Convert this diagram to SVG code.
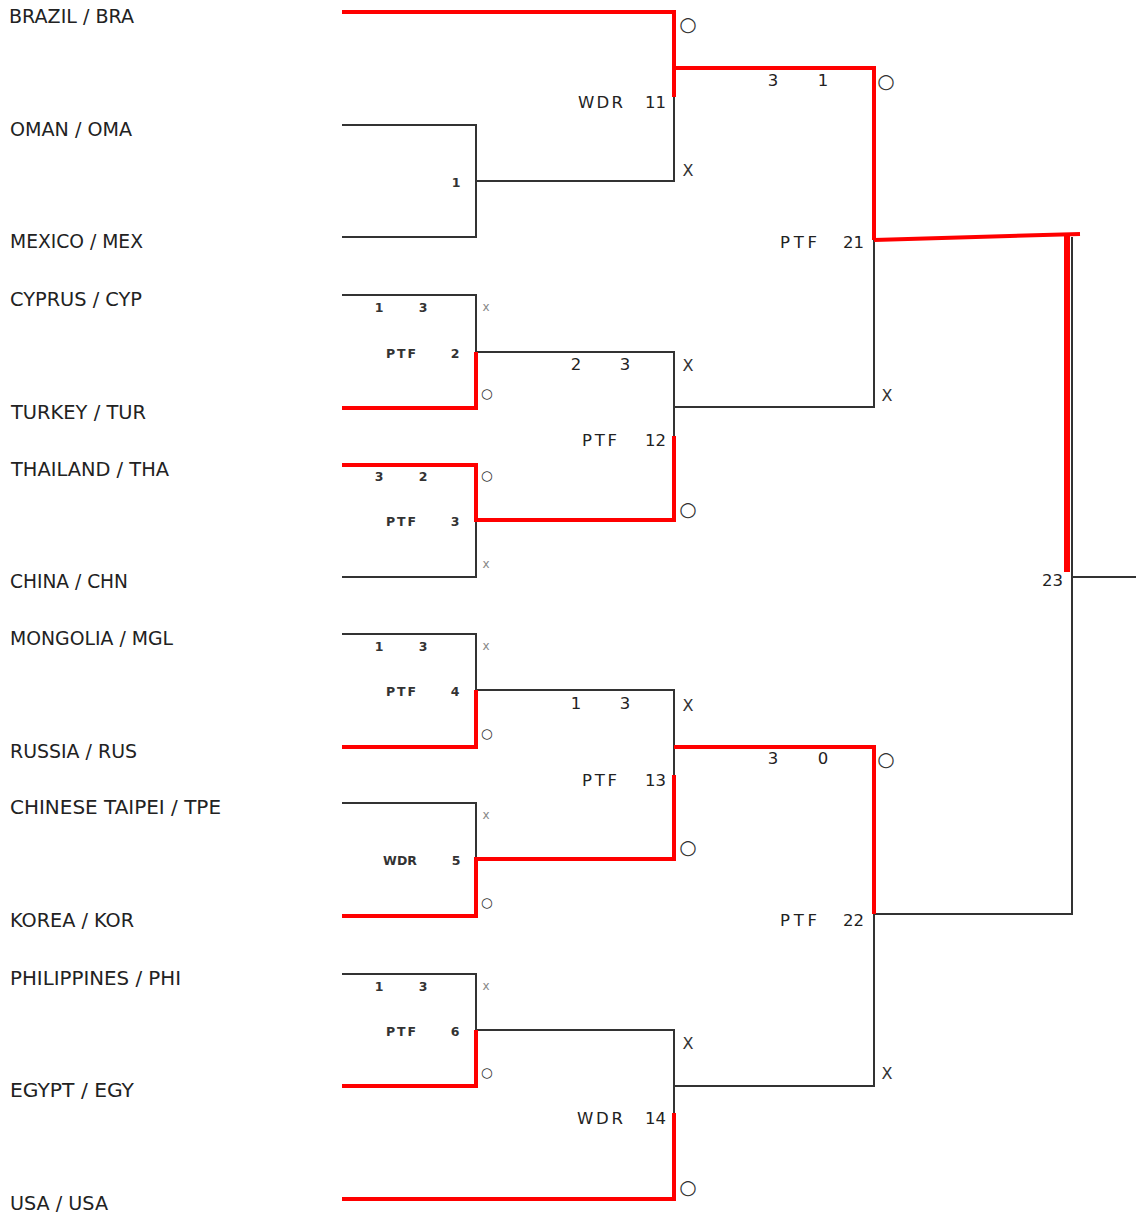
<svg xmlns="http://www.w3.org/2000/svg" width="1136" height="1218" viewBox="0 0 1136 1218">
<style>
.bk{fill:none;stroke:#333;stroke-width:2;stroke-linejoin:miter}
.rd{fill:none;stroke:#ff0000;stroke-width:4;stroke-linejoin:miter}
.team{font-family:"DejaVu Sans",Verdana,sans-serif;font-size:19px;fill:#222}
.r1{font-family:"DejaVu Sans",Verdana,sans-serif;font-size:12.5px;font-weight:bold;fill:#333}
.r2{font-family:"DejaVu Sans",Verdana,sans-serif;font-size:16.5px;fill:#222}
.mk{font-family:"DejaVu Sans",Verdana,sans-serif;font-size:16px;fill:#333;text-anchor:middle}
.o2{font-family:"DejaVu Sans",Verdana,sans-serif;font-size:20px;fill:#333;text-anchor:middle}
.mk1{font-family:"DejaVu Sans",Verdana,sans-serif;font-size:12px;fill:#888;text-anchor:middle}
.o1{font-family:"DejaVu Sans",Verdana,sans-serif;font-size:13.5px;fill:#333;text-anchor:middle}
.c{text-anchor:middle}
</style>
<rect width="1136" height="1218" fill="#fff"/>
<g id="connectors">
<path class="bk" d="M342 125H476V237H342"/>
<path class="bk" d="M476 181H674V97"/>
<path class="bk" d="M342 295H476V352H674V436"/>
<path class="bk" d="M674 407H874V240"/>
<path class="bk" d="M342 577H476V520"/>
<path class="bk" d="M342 634H476V690H674V775"/>
<path class="bk" d="M342 803H476V859"/>
<path class="bk" d="M342 974H476V1030H674V1113"/>
<path class="bk" d="M674 1086H874V914"/>
<path class="bk" d="M874 914H1072V237"/>
<path class="bk" d="M1072 577H1136"/>
<path class="rd" d="M342 12H674V97"/>
<path class="rd" d="M674 68H874V240"/>
<path class="rd" d="M874 240L1080 234"/>
<path class="rd" d="M1067 234V572" style="stroke-width:6"/>
<path class="rd" d="M342 408H476V352"/>
<path class="rd" d="M342 465H476V520H674V436"/>
<path class="rd" d="M342 747H476V690"/>
<path class="rd" d="M342 916H476V859H674V775"/>
<path class="rd" d="M674 747H874V914"/>
<path class="rd" d="M342 1086H476V1030"/>
<path class="rd" d="M342 1199H674V1113"/>
</g>
<g id="teams">
<text class="team" x="9" y="22.5" textLength="125" lengthAdjust="spacingAndGlyphs">BRAZIL / BRA</text>
<text class="team" x="10" y="135.5" textLength="122" lengthAdjust="spacingAndGlyphs">OMAN / OMA</text>
<text class="team" x="10" y="247.5" textLength="133" lengthAdjust="spacingAndGlyphs">MEXICO / MEX</text>
<text class="team" x="10" y="305.5" textLength="132" lengthAdjust="spacingAndGlyphs">CYPRUS / CYP</text>
<text class="team" x="11" y="418.5" textLength="135" lengthAdjust="spacingAndGlyphs">TURKEY / TUR</text>
<text class="team" x="11" y="475.5" textLength="158" lengthAdjust="spacingAndGlyphs">THAILAND / THA</text>
<text class="team" x="10" y="587.5" textLength="118" lengthAdjust="spacingAndGlyphs">CHINA / CHN</text>
<text class="team" x="10" y="644.5" textLength="163" lengthAdjust="spacingAndGlyphs">MONGOLIA / MGL</text>
<text class="team" x="10" y="757.5" textLength="127" lengthAdjust="spacingAndGlyphs">RUSSIA / RUS</text>
<text class="team" x="10" y="813.5" textLength="211" lengthAdjust="spacingAndGlyphs">CHINESE TAIPEI / TPE</text>
<text class="team" x="10" y="926.5" textLength="124" lengthAdjust="spacingAndGlyphs">KOREA / KOR</text>
<text class="team" x="10" y="984.5" textLength="171" lengthAdjust="spacingAndGlyphs">PHILIPPINES / PHI</text>
<text class="team" x="10" y="1096.5" textLength="124" lengthAdjust="spacingAndGlyphs">EGYPT / EGY</text>
<text class="team" x="10" y="1209.5" textLength="98" lengthAdjust="spacingAndGlyphs">USA / USA</text>
</g>
<g id="match1">
<text class="r1 c" x="456" y="186.5">1</text>
</g>
<g id="match2">
<text class="r1 c" x="379" y="311.5">1</text><text class="r1 c" x="423" y="311.5">3</text>
<text class="r1" x="386" y="357.5" textLength="30">PTF</text><text class="r1 c" x="455" y="357.5">2</text>
<text class="mk1" x="486" y="311">x</text><text class="o1" x="487" y="397.5">○</text>
</g>
<g id="match3">
<text class="r1 c" x="379" y="480.5">3</text><text class="r1 c" x="423" y="480.5">2</text>
<text class="r1" x="386" y="526" textLength="30">PTF</text><text class="r1 c" x="455" y="526">3</text>
<text class="o1" x="487" y="479.5">○</text><text class="mk1" x="486" y="568">x</text>
</g>
<g id="match4">
<text class="r1 c" x="379" y="651">1</text><text class="r1 c" x="423" y="651">3</text>
<text class="r1" x="386" y="696" textLength="30">PTF</text><text class="r1 c" x="455" y="696">4</text>
<text class="mk1" x="486" y="650">x</text><text class="o1" x="487" y="737.5">○</text>
</g>
<g id="match5">
<text class="r1" x="383" y="864.5" textLength="34">WDR</text><text class="r1 c" x="456" y="864.5">5</text>
<text class="mk1" x="486" y="819">x</text><text class="o1" x="487" y="906.5">○</text>
</g>
<g id="match6">
<text class="r1 c" x="379" y="990.5">1</text><text class="r1 c" x="423" y="990.5">3</text>
<text class="r1" x="386" y="1035.5" textLength="30">PTF</text><text class="r1 c" x="455" y="1035.5">6</text>
<text class="mk1" x="486" y="990">x</text><text class="o1" x="487" y="1076.5">○</text>
</g>
<g id="match11">
<text class="r2" x="578" y="108" textLength="45">WDR</text><text class="r2" x="645" y="108">11</text>
<text class="o2" x="688" y="31">○</text><text class="mk" x="688" y="176">X</text>
</g>
<g id="match12">
<text class="r2 c" x="576" y="370">2</text><text class="r2 c" x="625" y="370">3</text>
<text class="r2" x="582" y="446" textLength="35">PTF</text><text class="r2" x="645" y="446">12</text>
<text class="mk" x="688" y="371">X</text><text class="o2" x="688" y="516">○</text>
</g>
<g id="match13">
<text class="r2 c" x="576" y="709">1</text><text class="r2 c" x="625" y="709">3</text>
<text class="r2" x="582" y="786" textLength="35">PTF</text><text class="r2" x="645" y="786">13</text>
<text class="mk" x="688" y="711">X</text><text class="o2" x="688" y="854">○</text>
</g>
<g id="match14">
<text class="r2" x="577" y="1124" textLength="46">WDR</text><text class="r2" x="645" y="1124">14</text>
<text class="mk" x="688" y="1049">X</text><text class="o2" x="688" y="1194">○</text>
</g>
<g id="match21">
<text class="r2 c" x="773" y="86">3</text><text class="r2 c" x="823" y="86">1</text>
<text class="r2" x="780" y="248" textLength="37">PTF</text><text class="r2" x="843" y="248">21</text>
<text class="o2" x="886" y="88">○</text><text class="mk" x="887" y="401">X</text>
</g>
<g id="match22">
<text class="r2 c" x="773" y="764">3</text><text class="r2 c" x="823" y="764">0</text>
<text class="r2" x="780" y="926" textLength="37">PTF</text><text class="r2" x="843" y="926">22</text>
<text class="o2" x="886" y="766">○</text><text class="mk" x="887" y="1079">X</text>
</g>
<g id="match23">
<text class="r2" x="1042" y="586">23</text>
</g>
</svg>
